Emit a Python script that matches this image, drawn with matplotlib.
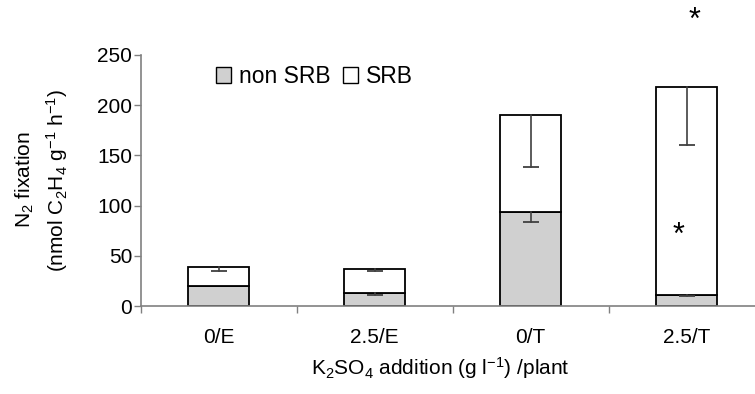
import matplotlib.pyplot as plt
import numpy as np
from matplotlib.patches import Patch

plt.rcParams["font.family"] = ["Liberation Sans", "DejaVu Sans"]
plt.rcParams["mathtext.fontset"] = "custom"
plt.rcParams["mathtext.rm"] = "Liberation Sans"
plt.rcParams["mathtext.it"] = "Liberation Sans:italic"

categories = ["0/E", "2.5/E", "0/T", "2.5/T"]
non_srb = [20, 13, 94, 11]
non_srb_err = [0, 2.5, 10, 1]
srb = [18.5, 24, 96, 207]
total_err = [3.5, 2.5, 52, 58]
y_ticks = [0, 50, 100, 150, 200, 250]

# significance stars (category position, value)
star_x = [2.95, 3.05]
star_y = [70, 284]


def lower_err(ax, xs, tops, errs):
    # only the downward half of the error bar, with a cap at the bottom
    for xi, t, e in zip(xs, tops, errs):
        if e <= 0:
            continue
        ax.plot([xi, xi], [t, t - e], color="#404040", lw=1.2, zorder=3)
        ax.plot([xi], [t - e], marker="_", markersize=11, mew=1.3, color="#404040", zorder=3)


def main() -> None:
    fig = plt.figure(figsize=(7.55, 3.94), dpi=100)
    ax = fig.add_axes([140.5 / 755, 88 / 394, 624 / 755, 251 / 394])

    x = np.arange(len(categories))
    total = np.array(non_srb) + np.array(srb)
    w = 0.395
    grey = "#808080"
    fs = 15

    ax.bar(x, non_srb, width=w, color="#d0d0d0", edgecolor="black", linewidth=1.3, zorder=2)
    ax.bar(x, srb, bottom=non_srb, width=w, color="white", edgecolor="black", linewidth=1.3, zorder=2)

    lower_err(ax, x, non_srb, non_srb_err)
    lower_err(ax, x, total, total_err)

    for sx, sy in zip(star_x, star_y):
        ax.text(sx, sy, "*", ha="center", va="center", fontsize=22, clip_on=False)

    ax.set_xlim(-0.5, 3.5)
    ax.set_ylim(0, 250)
    ax.set_yticks(y_ticks)
    ax.tick_params(axis="y", labelsize=fs, length=5, color=grey, width=1, pad=1)

    ax.set_xticks([-0.5, 0.5, 1.5, 2.5])
    ax.set_xticklabels([])
    ax.set_xticks(x, minor=True)
    ax.set_xticklabels(categories, minor=True)
    ax.tick_params(axis="x", which="major", length=5, color=grey, width=1)
    ax.tick_params(axis="x", which="minor", length=0, labelsize=fs, pad=16)

    for s in ["top", "right"]:
        ax.spines[s].set_visible(False)
    for s in ["left", "bottom"]:
        ax.spines[s].set_color(grey)
        ax.spines[s].set_linewidth(1.2)

    fig.text(25 / 755, 1 - 180 / 394, r"N$_2$ fixation", rotation=90, ha="center", va="center", fontsize=fs)
    fig.text(57 / 755, 1 - 180 / 394, r"(nmol C$_2$H$_4$ g$^{-1}$ h$^{-1}$)", rotation=90,
             ha="center", va="center", fontsize=fs)
    fig.text(440 / 755, 1 - 368 / 394, r"K$_2$SO$_4$ addition (g l$^{-1}$) /plant",
             ha="center", va="center", fontsize=fs)

    handles = [Patch(facecolor="#d0d0d0", edgecolor="black", linewidth=1),
               Patch(facecolor="white", edgecolor="black", linewidth=1)]
    ax.legend(handles, ["non SRB", "SRB"], ncol=2, frameon=False, fontsize=16.5,
              handlelength=0.65, handleheight=0.65, handletextpad=0.35, columnspacing=0.55,
              loc="upper left", bbox_to_anchor=(216 / 755, 1 - 65 / 394),
              bbox_transform=fig.transFigure, borderaxespad=0, borderpad=0)

    fig.savefig("out.png", dpi=100)


if __name__ == "__main__":
    main()
